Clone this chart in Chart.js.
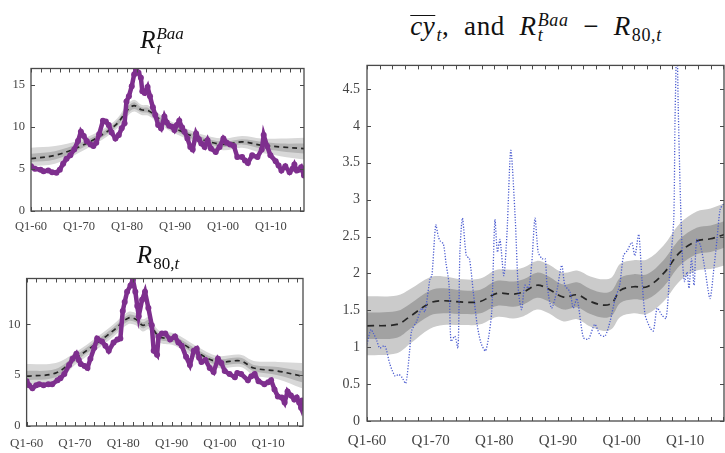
<!DOCTYPE html>
<html>
<head>
<meta charset="utf-8">
<script src="https://cdn.jsdelivr.net/npm/chart.js@4.4.1/dist/chart.umd.min.js"></script>
<style>
  body { margin: 0; background: #fff; width: 725px; height: 453px; overflow: hidden; position: relative; font-family: "Liberation Serif", "DejaVu Serif", serif; }
  canvas { position: absolute; }
  .ttl { position: absolute; font-size: 25px; line-height: 30px; white-space: nowrap; color: #111; transform: translateX(-50%); }
  .ss { display: inline-block; vertical-align: -6px; font-size: 17px; line-height: 15px; font-style: italic; margin-left: 1px; }
  .ss span { display: block; }
  .sb { font-size: 17px; vertical-align: -6px; margin-left: 1px; }
  .bar { display: inline-block; border-top: 1.4px solid #111; line-height: 0.8em; }
  .wide { font-size: 27px; letter-spacing: 0.6px; }
  .wide .ss, .wide .sb { font-size: 18px; }
</style>
</head>
<body>
<canvas id="baa" width="312" height="180" style="left:0;top:55px"></canvas>
<canvas id="r80" width="312" height="188" style="left:0;top:265px"></canvas>
<canvas id="spread" width="395" height="403" style="left:330px;top:50px"></canvas>

<div class="ttl" style="left:162px;top:25px"><i>R</i><span class="ss"><span>Baa</span><span>t</span></span></div>
<div class="ttl" style="left:158px;top:240px"><i>R</i><span class="sb">80,<i>t</i></span></div>
<div class="ttl wide" style="left:536px;top:11px"><i class="bar">cy</i><span class="sb"><i>t</i></span>, &nbsp;and&nbsp; <i>R</i><span class="ss"><span>Baa</span><span>t</span></span> &nbsp;&minus;&nbsp; <i>R</i><span class="sb">80,<i>t</i></span></div>

<script>
// x axis tick labels (years at Q1)
const xTickYears = [1960, 1970, 1980, 1990, 2000, 2010];
const xTickLabels = ["Q1-60", "Q1-70", "Q1-80", "Q1-90", "Q1-00", "Q1-10"];

// R_t^Baa panel
const baaYears = [1960.0, 1960.8, 1962.0, 1962.6, 1963.6, 1964.4, 1965.3, 1966.0, 1966.7, 1967.4, 1968.2, 1969.0, 1969.8, 1970.4, 1971.0, 1971.6, 1972.4, 1973.0, 1973.6, 1974.2, 1975.0, 1975.6, 1976.2, 1976.8, 1977.6, 1978.3, 1978.9, 1979.5, 1979.9, 1980.4, 1981.0, 1981.5, 1981.9, 1982.4, 1982.9, 1983.2, 1983.7, 1984.3, 1984.8, 1985.4, 1985.9, 1986.5, 1987.1, 1987.8, 1988.3, 1988.8, 1989.4, 1989.9, 1990.4, 1990.9, 1991.5, 1992.0, 1992.6, 1993.2, 1993.7, 1994.4, 1995.0, 1995.5, 1996.2, 1996.8, 1997.5, 1998.5, 1999.3, 2000.1, 2000.8, 2001.5, 2002.3, 2003.0, 2004.0, 2004.6, 2005.2, 2006.1, 2007.2, 2008.1, 2008.5, 2009.2, 2009.9, 2011.0, 2011.6, 2012.2, 2013.0, 2013.9, 2014.5, 2014.9, 2015.4, 2015.8, 2016.3, 2016.9];
const baaVals = [5.3, 5.0, 4.9, 4.7, 4.8, 4.6, 4.55, 4.9, 5.6, 6.2, 6.6, 7.3, 8.3, 9.4, 8.9, 8.3, 7.9, 7.7, 8.1, 9.1, 10.7, 10.6, 10.2, 9.3, 8.6, 9.0, 9.8, 10.4, 13.0, 13.6, 14.8, 16.2, 16.8, 16.4, 15.8, 14.2, 14.0, 14.7, 13.6, 12.3, 11.4, 10.2, 9.8, 11.2, 10.5, 10.1, 10.0, 9.6, 10.2, 10.7, 9.9, 9.4, 8.6, 7.6, 7.3, 9.2, 8.5, 8.0, 7.6, 8.4, 7.4, 7.0, 7.6, 8.6, 8.1, 7.9, 7.7, 6.4, 6.4, 6.0, 5.7, 6.6, 6.4, 7.3, 9.0, 7.7, 6.6, 5.9, 5.4, 4.8, 5.3, 4.6, 5.0, 5.5, 4.8, 4.9, 5.2, 4.2];
const baaBandYears = [1960, 1965, 1970, 1975, 1978, 1980, 1981.5, 1983, 1984.5, 1987, 1990, 1995, 2000, 2004, 2008, 2012, 2017];
const baaMedian = [6.2, 6.6, 7.6, 9.1, 10.4, 11.9, 12.5, 12.0, 11.9, 10.8, 9.8, 8.6, 7.9, 8.2, 7.8, 7.6, 7.4];
const baaOuterHi = [7.5, 7.7, 8.4, 9.7, 11.0, 12.6, 13.2, 12.6, 12.5, 11.4, 10.4, 9.2, 8.6, 8.9, 8.6, 8.6, 8.7];
const baaOuterLo = [5.3, 5.6, 6.9, 8.5, 9.8, 11.2, 11.8, 11.4, 11.3, 10.2, 9.2, 8.0, 7.2, 7.5, 6.9, 6.5, 6.1];
const baaInnerHi = [6.8, 7.1, 8.0, 9.4, 10.7, 12.3, 12.9, 12.3, 12.2, 11.1, 10.1, 8.9, 8.2, 8.5, 8.2, 8.0, 8.0];
const baaInnerLo = [5.8, 6.1, 7.3, 8.8, 10.1, 11.5, 12.1, 11.7, 11.6, 10.5, 9.5, 8.3, 7.6, 7.9, 7.4, 7.1, 6.8];
const baaYTicks = [0, 5, 10, 15];

// R_80,t panel
const r80Years = [1960.0, 1960.5, 1961.2, 1962.0, 1962.6, 1963.5, 1964.5, 1965.3, 1966.4, 1967.0, 1967.8, 1968.8, 1969.5, 1970.3, 1970.8, 1971.2, 1972.0, 1972.6, 1973.2, 1974.0, 1974.6, 1975.6, 1976.3, 1977.0, 1978.0, 1978.8, 1979.4, 1979.9, 1980.3, 1980.8, 1981.5, 1982.0, 1982.5, 1982.9, 1983.2, 1983.9, 1984.5, 1985.2, 1985.9, 1986.3, 1987.0, 1987.3, 1988.0, 1988.7, 1989.7, 1990.7, 1991.4, 1992.1, 1993.0, 1993.8, 1994.6, 1995.2, 1995.7, 1996.2, 1997.0, 1997.9, 1998.7, 1999.6, 2000.3, 2001.0, 2002.0, 2003.1, 2003.6, 2004.4, 2005.8, 2006.5, 2007.2, 2008.0, 2009.2, 2010.0, 2010.6, 2011.3, 2012.0, 2012.8, 2013.4, 2014.0, 2014.7, 2015.4, 2015.9, 2016.4, 2016.8, 2017.0];
const r80Vals = [4.4, 4.0, 3.7, 4.0, 4.1, 4.0, 4.1, 4.1, 4.5, 4.7, 5.1, 6.0, 6.6, 7.1, 6.5, 6.1, 5.9, 5.7, 6.6, 7.7, 8.6, 8.3, 7.9, 7.4, 8.2, 8.5, 8.6, 11.3, 12.2, 13.2, 13.8, 14.4, 13.2, 11.8, 10.8, 12.4, 13.2, 11.6, 9.9, 7.4, 7.0, 8.8, 9.1, 9.1, 8.5, 8.8, 8.2, 7.9, 6.8, 6.0, 7.4, 7.6, 6.7, 6.3, 6.5, 5.7, 5.3, 6.6, 6.2, 5.4, 5.1, 4.8, 5.2, 5.1, 4.5, 4.9, 5.1, 4.4, 4.1, 4.3, 4.5, 3.6, 2.9, 2.8, 2.3, 3.4, 3.0, 2.6, 2.8, 2.3, 1.8, 2.5];
const r80BandYears = [1960, 1966, 1970, 1975, 1978, 1981, 1982.6, 1984, 1985.3, 1987.4, 1990.7, 1995, 1999.5, 2004.3, 2007, 2012, 2017];
const r80Median = [4.9, 5.2, 6.6, 8.3, 9.4, 10.6, 10.5, 9.9, 10.1, 8.8, 8.5, 7.3, 6.3, 6.4, 5.7, 5.4, 4.9];
const r80OuterHi = [6.1, 6.2, 7.2, 8.9, 10.0, 11.2, 11.1, 10.5, 10.7, 9.4, 9.1, 7.9, 6.9, 7.0, 6.4, 6.3, 6.2];
const r80OuterLo = [3.8, 4.2, 6.0, 7.7, 8.8, 10.0, 9.9, 9.3, 9.5, 8.2, 7.9, 6.7, 5.7, 5.8, 5.0, 4.6, 3.7];
const r80InnerHi = [5.4, 5.6, 6.9, 8.6, 9.7, 10.9, 10.8, 10.2, 10.4, 9.1, 8.8, 7.6, 6.6, 6.7, 6.0, 5.8, 5.4];
const r80InnerLo = [4.5, 4.8, 6.3, 8.0, 9.1, 10.3, 10.2, 9.6, 9.8, 8.5, 8.2, 7.0, 6.0, 6.1, 5.4, 5.0, 4.3];
const r80YTicks = [0, 5, 10];

// cy_t bar and R^Baa - R80 panel
const cyYears = [1960.0, 1960.6, 1961.0, 1961.5, 1962.0, 1962.8, 1963.6, 1964.4, 1965.0, 1965.5, 1966.1, 1966.7, 1967.0, 1967.8, 1968.6, 1969.1, 1969.9, 1970.2, 1970.8, 1971.2, 1971.5, 1972.0, 1972.4, 1972.9, 1973.2, 1973.8, 1974.3, 1974.6, 1975.0, 1975.6, 1976.1, 1976.7, 1977.3, 1977.9, 1978.6, 1979.1, 1979.6, 1980.1, 1980.5, 1980.9, 1981.5, 1982.0, 1982.6, 1983.3, 1983.8, 1984.3, 1984.8, 1985.4, 1985.9, 1986.4, 1986.9, 1987.5, 1988.0, 1988.3, 1989.0, 1989.8, 1990.6, 1991.1, 1991.9, 1992.4, 1993.0, 1994.0, 1994.8, 1995.8, 1996.6, 1997.4, 1998.2, 1999.0, 1999.7, 2000.3, 2000.9, 2001.6, 2002.1, 2002.7, 2003.2, 2003.7, 2004.5, 2005.0, 2005.6, 2006.3, 2007.0, 2007.6, 2008.2, 2008.4, 2008.7, 2008.9, 2009.2, 2009.6, 2009.9, 2010.3, 2010.6, 2011.0, 2011.4, 2011.8, 2012.4, 2013.1, 2013.9, 2014.5, 2015.0, 2015.5, 2016.1];
const cyVals = [1.04, 1.24, 1.19, 1.10, 0.99, 1.02, 0.77, 0.61, 0.63, 0.59, 0.51, 0.95, 1.22, 1.35, 1.53, 1.48, 1.93, 1.97, 2.66, 2.50, 2.44, 2.40, 2.15, 1.84, 1.08, 1.15, 0.99, 2.29, 2.75, 2.24, 2.20, 1.75, 1.31, 1.06, 0.95, 1.13, 1.48, 2.73, 2.29, 2.46, 1.97, 2.55, 3.67, 2.73, 1.75, 1.51, 1.84, 1.80, 2.15, 2.75, 2.29, 2.20, 2.20, 1.84, 1.53, 1.75, 2.11, 1.84, 1.75, 1.53, 1.66, 1.13, 1.11, 1.31, 1.17, 1.15, 1.35, 1.66, 1.84, 2.24, 2.31, 2.42, 2.24, 2.53, 1.93, 1.44, 1.26, 1.22, 1.53, 1.44, 1.39, 2.06, 2.73, 4.07, 5.2, 4.29, 3.18, 2.15, 1.89, 2.02, 1.80, 2.20, 1.84, 2.46, 2.38, 2.06, 1.66, 2.06, 2.46, 2.87, 2.95];
const sprBandYears = [1960, 1964.7, 1966.8, 1969.9, 1972, 1975.1, 1977.8, 1980.4, 1983, 1984.6, 1986.7, 1988.3, 1990.9, 1993, 1995.1, 1997.2, 1998.5, 1999.8, 2001.9, 2004, 2006.6, 2009.2, 2011.8, 2014, 2016.2];
const sprMedian = [1.29, 1.31, 1.42, 1.60, 1.63, 1.61, 1.62, 1.73, 1.72, 1.75, 1.84, 1.80, 1.68, 1.71, 1.62, 1.57, 1.60, 1.77, 1.82, 1.82, 2.00, 2.29, 2.44, 2.47, 2.53];
const sprOuterHi = [1.69, 1.70, 1.79, 1.95, 1.96, 1.92, 1.93, 2.05, 2.05, 2.08, 2.17, 2.13, 2.01, 2.04, 1.96, 1.92, 1.95, 2.13, 2.18, 2.19, 2.38, 2.68, 2.84, 2.88, 2.95];
const sprOuterLo = [0.89, 0.92, 1.05, 1.25, 1.30, 1.30, 1.31, 1.41, 1.39, 1.42, 1.51, 1.47, 1.35, 1.38, 1.28, 1.22, 1.25, 1.41, 1.46, 1.45, 1.62, 1.90, 2.04, 2.06, 2.11];
const sprInnerHi = [1.47, 1.49, 1.59, 1.77, 1.80, 1.77, 1.78, 1.90, 1.89, 1.92, 2.01, 1.97, 1.85, 1.88, 1.79, 1.74, 1.77, 1.94, 1.99, 1.99, 2.18, 2.47, 2.62, 2.65, 2.71];
const sprInnerLo = [1.11, 1.13, 1.25, 1.43, 1.46, 1.45, 1.46, 1.56, 1.55, 1.58, 1.67, 1.63, 1.51, 1.54, 1.45, 1.40, 1.43, 1.60, 1.65, 1.65, 1.82, 2.11, 2.26, 2.29, 2.35];
const sprYTicks = [0, 0.5, 1, 1.5, 2, 2.5, 3, 3.5, 4, 4.5];

const PURPLE = "#7e2f8e";
const FONT = "'Liberation Serif', 'DejaVu Serif', serif";
const pts = (xs, ys) => xs.map((x, i) => ({x, y: ys[i]}));

// frame box + inward ticks on all four sides (MATLAB look)
const frame = {
  id: "frame",
  afterDraw(chart, args, o) {
    const {ctx, chartArea: a} = chart;
    const x = chart.scales.x, y = chart.scales.y;
    ctx.save();
    ctx.strokeStyle = "#4a4a4a";
    ctx.lineWidth = 1;
    ctx.beginPath();
    for (let yr = 1960; yr <= x.max; yr += 2) {
      const px = Math.round(x.getPixelForValue(yr)) + 0.5;
      ctx.moveTo(px, a.bottom); ctx.lineTo(px, a.bottom - 4);
      ctx.moveTo(px, a.top); ctx.lineTo(px, a.top + 4);
    }
    o.yTicks.forEach(v => {
      const py = Math.round(y.getPixelForValue(v)) + 0.5;
      ctx.moveTo(a.left, py); ctx.lineTo(a.left + 4, py);
      ctx.moveTo(a.right, py); ctx.lineTo(a.right - 4, py);
    });
    ctx.stroke();
    ctx.lineWidth = 1.3;
    ctx.strokeRect(a.left, a.top, a.right - a.left, a.bottom - a.top);
    ctx.restore();
  }
};

const bandSets = (xs, med, ih, il, oh, ol, cIn, cOut, dash) => [
  {data: pts(xs, med), borderColor: "#262626", borderWidth: 1.7, borderDash: dash, pointRadius: 0, tension: 0.35, order: 1},
  {data: pts(xs, ih), borderWidth: 0, pointRadius: 0, backgroundColor: cIn, fill: "+1", tension: 0.35, order: 2},
  {data: pts(xs, il), borderWidth: 0, pointRadius: 0, fill: false, tension: 0.35, order: 2},
  {data: pts(xs, oh), borderWidth: 0, pointRadius: 0, backgroundColor: cOut, fill: "+1", tension: 0.35, order: 3},
  {data: pts(xs, ol), borderWidth: 0, pointRadius: 0, fill: false, tension: 0.35, order: 3},
];

const makeChart = (id, datasets, s) => new Chart(document.getElementById(id), {
  type: "line",
  data: {datasets},
  plugins: [frame],
  options: {
    responsive: false, animation: false, events: [],
    layout: {padding: {top: s.padTop, right: s.padRight, left: 0, bottom: 0}},
    plugins: {legend: {display: false}, tooltip: {enabled: false}, frame: {yTicks: s.yTicks}},
    scales: {
      x: {
        type: "linear", min: 1960, max: s.xMax,
        grid: {display: false, drawTicks: false}, border: {display: false},
        afterBuildTicks: sc => { sc.ticks = xTickYears.map(v => ({value: v})); },
        afterFit: sc => { sc.height = s.xh; },
        ticks: {padding: s.xPad, color: "#444", font: {family: FONT, size: s.xFont}, maxRotation: 0, autoSkip: false,
          callback: v => xTickLabels[xTickYears.indexOf(v)]},
      },
      y: {
        min: 0, max: s.yMax,
        grid: {display: false, drawTicks: false}, border: {display: false},
        afterBuildTicks: sc => { sc.ticks = s.yTicks.map(v => ({value: v})); },
        afterFit: sc => { sc.width = s.yw; },
        ticks: {padding: s.yPad, color: "#444", font: {family: FONT, size: s.yFont}, callback: v => String(v)},
      },
    },
  },
});

makeChart("baa", [
  {data: pts(baaYears, baaVals), borderColor: PURPLE, borderWidth: 4.5, pointRadius: 3, pointBorderWidth: 0, pointBackgroundColor: PURPLE, tension: 0, order: 0},
  ...bandSets(baaBandYears, baaMedian, baaInnerHi, baaInnerLo, baaOuterHi, baaOuterLo, "#b4b4b4", "#d8d8d8", [5, 4]),
], {padTop: 5, padRight: 8, xh: 24, yw: 31, xMax: 2016.9, yMax: 16.9, yTicks: baaYTicks, xPad: 8, yPad: 6, xFont: 12.5, yFont: 12.5});

makeChart("r80", [
  {data: pts(r80Years, r80Vals), borderColor: PURPLE, borderWidth: 4.5, pointRadius: 3, pointBorderWidth: 0, pointBackgroundColor: PURPLE, tension: 0, order: 0},
  ...bandSets(r80BandYears, r80Median, r80InnerHi, r80InnerLo, r80OuterHi, r80OuterLo, "#b4b4b4", "#d8d8d8", [5, 4]),
], {padTop: 7, padRight: 9, xh: 27, yw: 24, xMax: 2017.2, yMax: 14.5, yTicks: r80YTicks, xPad: 10, yPad: 6, xFont: 13, yFont: 12.5});

makeChart("spread", [
  {data: pts(cyYears, cyVals), borderColor: "#4a5bd0", borderWidth: 1.3, borderDash: [1.2, 1.6], pointRadius: 0, tension: 0.25, order: 0},
  ...bandSets(sprBandYears, sprMedian, sprInnerHi, sprInnerLo, sprOuterHi, sprOuterLo, "#a2a2a2", "#cbcbcb", [7, 5]),
], {padTop: 10, padRight: 1, xh: 32, yw: 37, xMax: 2016.1, yMax: 4.82, yTicks: sprYTicks, xPad: 11, yPad: 7, xFont: 15, yFont: 14});
</script>
</body>
</html>
